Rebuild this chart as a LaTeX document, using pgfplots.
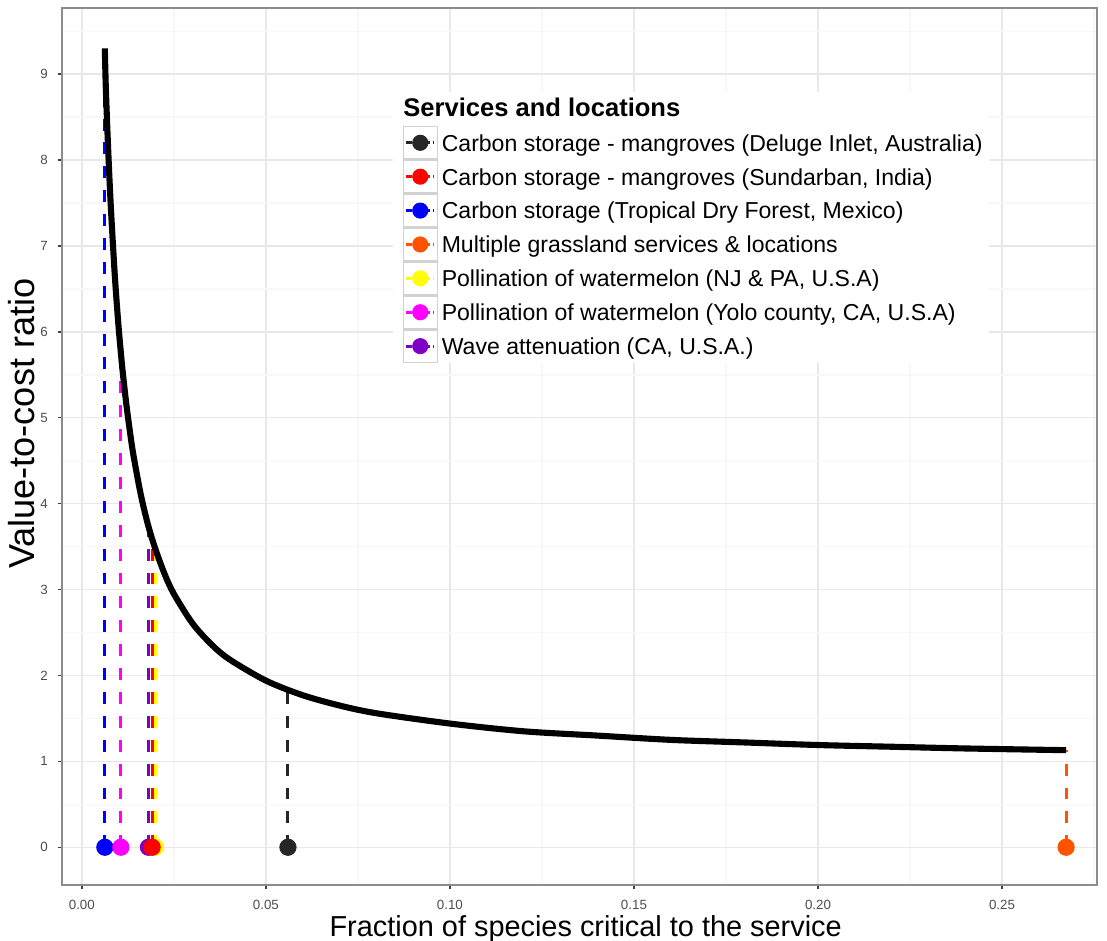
\documentclass[border=0pt]{standalone}
\usepackage{fontspec}
\setmainfont{Liberation Sans}
\usepackage{pgfplots}
\pgfplotsset{compat=1.18}
\usetikzlibrary{calc}
\definecolor{cBlack}{HTML}{262626}
\definecolor{cRed}{HTML}{FF0000}
\definecolor{cBlue}{HTML}{0000FF}
\definecolor{cOrange}{HTML}{FF5300}
\definecolor{cYellow}{HTML}{FFFF00}
\definecolor{cMagenta}{HTML}{FF00FF}
\definecolor{cPurple}{HTML}{7E00C4}
\definecolor{gridmaj}{HTML}{E8E8E8}
\definecolor{gridmin}{HTML}{F7F7F7}
\definecolor{frame}{HTML}{8C8C8C}
\definecolor{ticktxt}{HTML}{4D4D4D}

\tikzset{
  drop/.style={#1, line width=1.1pt, dash pattern=on 4.3pt off 4.3pt},
}
\pgfplotsset{
  legkey/.style={legend image code/.code={
    \draw[gray!35, fill=white, solid, line width=0.5pt] (0pt,-5.85pt) rectangle (12.2pt,5.85pt);
    \draw[#1, line width=1pt, dash pattern=on 2.2pt off 1pt] (1pt,0pt) -- (11.2pt,0pt);
    \fill[#1] (6.1pt,0pt) circle (2.7pt);
  }},
}

\begin{document}
\begin{tikzpicture}
\begin{axis}[
  width=372.6pt, height=315.7pt, scale only axis,
  xmin=-0.0054, xmax=0.2758, ymin=-0.44, ymax=9.77,
  xtick={0,0.05,0.10,0.15,0.20,0.25},
  xticklabels={0.00,0.05,0.10,0.15,0.20,0.25},
  minor xtick={0.025,0.075,0.125,0.175,0.225,0.275},
  ytick={0,1,...,9},
  minor ytick={0.5,1.5,...,9.5},
  grid=both,
  major grid style={gridmaj, line width=0.5pt},
  minor grid style={gridmin, line width=0.5pt},
  axis line style={frame, line width=0.5pt},
  tick align=outside, major tick length=1.6pt, minor tick length=0pt,
  xtick pos=lower, ytick pos=left,
  major tick style={black!75, line width=0.5pt},
  /pgf/number format/assume math mode=true,
  tick label style={font=\fontsize{4.8}{5.5}\selectfont, text=ticktxt},
  xticklabel style={yshift=-0.3pt},
  xlabel={Fraction of species critical to the service},
  ylabel={Value-to-cost ratio},
  xlabel style={at={(ticklabel cs:0.506)}, font=\fontsize{10.4}{11}\selectfont, yshift=4.6pt},
  ylabel style={at={(ticklabel cs:0.526)}, font=\fontsize{13}{14}\selectfont, yshift=-5pt},
  legend style={at={(axis cs:0.087,8.405)}, anchor=north west,
    draw=none, fill=none, inner sep=0pt, row sep=0pt,
    font=\fontsize{8.3}{9}\selectfont,
    nodes={inner xsep=1.4pt, inner ysep=0pt, text height=8.85pt, text depth=2.85pt}},
  legend cell align=left,
]
% legend background
\fill[white] (axis cs:0.0845,8.79) rectangle (axis cs:0.2465,5.64);
\node[anchor=west, font=\fontsize{9.2}{10}\selectfont\bfseries, inner sep=0pt]
  at (axis cs:0.0872,8.615) {Services and locations};

% drop lines from the curve to the axis
\addplot[drop=cBlack, forget plot] coordinates {(0.0560,0) (0.0560,1.83)};
\addplot[drop=cRed, forget plot] coordinates {(0.0191,0) (0.0191,3.60)};
\addplot[drop=cBlue, forget plot] coordinates {(0.00625,0) (0.00625,9.25)};
\addplot[drop=cOrange, forget plot] coordinates {(0.2674,0) (0.2674,1.13)};
\addplot[drop=cYellow, forget plot] coordinates {(0.0200,0) (0.0200,3.47)};
\addplot[drop=cMagenta, forget plot] coordinates {(0.0106,0) (0.0106,5.75)};
\addplot[drop=cPurple, forget plot] coordinates {(0.0181,0) (0.0181,3.73)};

% value-to-cost curve
\addplot[black, line width=2.2pt, line join=round, smooth, tension=0.5, forget plot] coordinates {
 (0.00625,9.30) (0.0065,8.87) (0.007,8.29) (0.0075,7.79) (0.008,7.36) (0.009,6.63)
 (0.010,6.05) (0.011,5.58) (0.012,5.19) (0.013,4.86) (0.014,4.57) (0.016,4.11)
 (0.018,3.75) (0.020,3.47) (0.0225,3.18) (0.025,2.95) (0.030,2.61) (0.035,2.37)
 (0.040,2.19) (0.050,1.94) (0.060,1.77) (0.070,1.65) (0.080,1.56) (0.100,1.44)
 (0.120,1.35) (0.140,1.30) (0.160,1.25) (0.180,1.22) (0.200,1.19) (0.220,1.17)
 (0.240,1.15) (0.2674,1.13)};

% points on the axis
\addplot[only marks, mark=*, mark size=2.9pt, cBlack, forget plot] coordinates {(0.0560,0)};
\addplot[only marks, mark=*, mark size=2.9pt, cBlue, forget plot] coordinates {(0.00625,0)};
\addplot[only marks, mark=*, mark size=2.9pt, cOrange, forget plot] coordinates {(0.2674,0)};
\addplot[only marks, mark=*, mark size=2.9pt, cMagenta, forget plot] coordinates {(0.0106,0)};
\addplot[only marks, mark=*, mark size=2.9pt, cYellow, forget plot] coordinates {(0.0200,0)};
\addplot[only marks, mark=*, mark size=2.9pt, cPurple, forget plot] coordinates {(0.0181,0)};
\addplot[only marks, mark=*, mark size=2.9pt, cRed, forget plot] coordinates {(0.0191,0)};

\addlegendimage{legkey=cBlack}
\addlegendentry{Carbon storage - mangroves (Deluge Inlet, Australia)}
\addlegendimage{legkey=cRed}
\addlegendentry{Carbon storage - mangroves (Sundarban, India)}
\addlegendimage{legkey=cBlue}
\addlegendentry{Carbon storage (Tropical Dry Forest, Mexico)}
\addlegendimage{legkey=cOrange}
\addlegendentry{Multiple grassland services \& locations}
\addlegendimage{legkey=cYellow}
\addlegendentry{Pollination of watermelon (NJ \& PA, U.S.A)}
\addlegendimage{legkey=cMagenta}
\addlegendentry{Pollination of watermelon (Yolo county, CA, U.S.A)}
\addlegendimage{legkey=cPurple}
\addlegendentry{Wave attenuation (CA, U.S.A.)}
\end{axis}
\pgfresetboundingbox
\path[use as bounding box] ($(current axis.south west)+(-22.3pt,-19.8pt)$)
  rectangle ($(current axis.north east)+(3.6pt,2.9pt)$);
\end{tikzpicture}
\end{document}
